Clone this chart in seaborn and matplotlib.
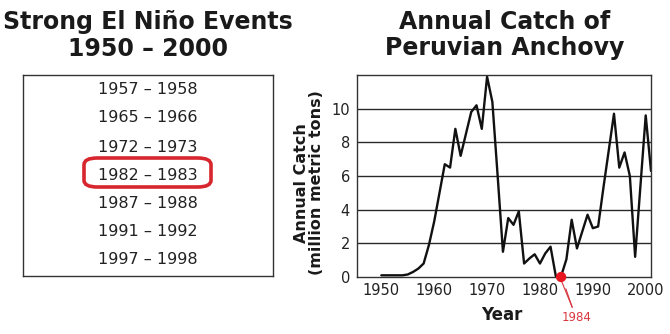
import matplotlib
matplotlib.use("Agg")
import matplotlib.pyplot as plt
from matplotlib.patches import FancyBboxPatch
import numpy as np
import pandas as pd
import seaborn as sns

# Strong El Niño event periods
el_nino_events = ["1957 – 1958", "1965 – 1966", "1972 – 1973", "1982 – 1983",
                  "1987 – 1988", "1991 – 1992", "1997 – 1998"]
highlight_event = "1982 – 1983"

# Annual catch of Peruvian anchovy (million metric tons)
years = list(range(1950, 2002))
catch = [0.1, 0.1, 0.1, 0.1, 0.1, 0.15, 0.3, 0.5, 0.8, 1.9,
         3.3, 5.0, 6.7, 6.5, 8.8, 7.2, 8.5, 9.8, 10.2, 8.8,
         11.9, 10.4, 6.0, 1.5, 3.5, 3.1, 3.9, 0.8, 1.1, 1.35,
         0.8, 1.4, 1.8, 0.05, 0.05, 1.05, 3.4, 1.7, 2.7, 3.7,
         2.9, 3.0, 5.3, 7.5, 9.7, 6.5, 7.4, 6.0, 1.2, 5.4,
         9.6, 6.3]
marked_year = 1984
marked_value = 0.0

xticks = [1950, 1960, 1970, 1980, 1990, 2000]
yticks = [0, 2, 4, 6, 8, 10]

sns.set_theme(style="white")
plt.rcParams["font.family"] = ["DejaVu Sans"]

W, H = 670, 334
fig = plt.figure(figsize=(W / 100, H / 100), dpi=100)

def fx(px):
    return px / W

def fy(py):
    return 1 - py / H

# ---- left panel: table of events ----
fig.text(fx(148), fy(22), "Strong El Niño Events", ha="center", va="center",
         fontsize=17, fontweight="bold", color="#1a1a1a")
fig.text(fx(148), fy(49), "1950 – 2000", ha="center", va="center",
         fontsize=17, fontweight="bold", color="#1a1a1a")

tab = fig.add_axes([fx(23), fy(276), fx(273) - fx(23), fy(75) - fy(276)])
tab.set_xlim(0, 1)
tab.set_ylim(0, 1)
tab.set_xticks([])
tab.set_yticks([])
for sp in tab.spines.values():
    sp.set_color("#333333")
    sp.set_linewidth(1.0)

row_y = [90, 118, 147, 175, 203, 231, 259]
for label, py in zip(el_nino_events, row_y):
    fig.text(fx(148), fy(py), label, ha="center", va="center",
             fontsize=11.5, color="#222222")
    if label == highlight_event:
        box = FancyBboxPatch((fx(84), fy(187)), fx(211) - fx(84), fy(158) - fy(187),
                             boxstyle="round,pad=0,rounding_size=0.02",
                             transform=fig.transFigure, fill=False,
                             edgecolor="#d7262e", linewidth=2.6)
        fig.patches.append(box)

# ---- right panel: catch line chart ----
fig.text(fx(505), fy(22), "Annual Catch of", ha="center", va="center",
         fontsize=17, fontweight="bold", color="#1a1a1a")
fig.text(fx(505), fy(48), "Peruvian Anchovy", ha="center", va="center",
         fontsize=17, fontweight="bold", color="#1a1a1a")

ax = fig.add_axes([fx(357), fy(277), fx(651) - fx(357), fy(75) - fy(277)])
df = pd.DataFrame({"Year": years, "Catch": catch})
sns.lineplot(data=df, x="Year", y="Catch", ax=ax, color="#111111", linewidth=1.7)

ax.set_xlim(1945.4, 2001)
ax.set_ylim(0, 12)
ax.set_xticks(xticks)
ax.set_yticks(yticks)
ax.tick_params(axis="both", length=0, labelsize=10.5, colors="#222222")
ax.tick_params(axis="x", pad=4)
ax.tick_params(axis="y", pad=5)
for t in yticks[1:]:
    ax.axhline(t, color="#2a2a2a", linewidth=1.0, zorder=0)
for sp in ax.spines.values():
    sp.set_color("#333333")
    sp.set_linewidth(1.0)

ax.set_xlabel("")
ax.set_ylabel("")
fig.text(fx(502), fy(315), "Year", ha="center", va="center",
         fontsize=12, fontweight="bold", color="#1a1a1a")
fig.text(fx(309), fy(183), "Annual Catch\n(million metric tons)", ha="center",
         va="center", rotation=90, fontsize=11.5, fontweight="bold",
         color="#1a1a1a", linespacing=1.0)

# 1984 marker with callout
ax.scatter([marked_year], [marked_value], s=55, color="#e8161e", zorder=5,
           clip_on=False, edgecolor="none")
ax.annotate(str(marked_year), xy=(marked_year, marked_value),
            xytext=(marked_year + 2.85, marked_value - 2.4),
            ha="center", va="center", fontsize=8.5, color="#d9363e",
            annotation_clip=False)
tip = (marked_year + 2.1, marked_value - 1.8)
ax.plot([marked_year + 0.15, tip[0]], [marked_value - 0.3, tip[1]],
        color="#d9363e", linewidth=0.8, clip_on=False)
ax.plot([marked_year + 0.9, tip[0]], [marked_value - 0.7, tip[1]],
        color="#d9363e", linewidth=0.8, clip_on=False)

fig.savefig("out.png", dpi=100)
